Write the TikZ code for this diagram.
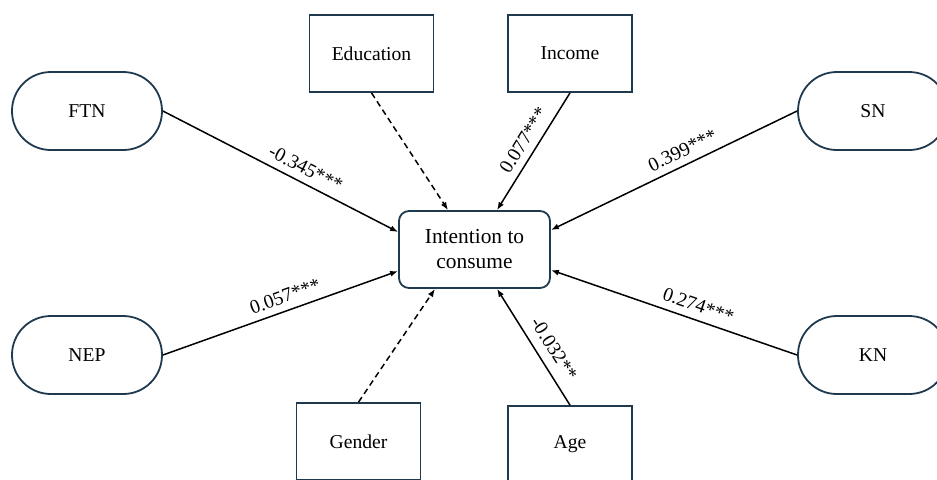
\documentclass[tikz,border=0pt]{standalone}
\usepackage{fontspec}
\setmainfont{Liberation Serif}
\usepackage{xcolor}
\usetikzlibrary{calc, arrows.meta}
\definecolor{navy}{HTML}{1F3A4F}

\begin{document}
\begin{tikzpicture}[x=0.5pt, y=-0.5pt, >={Latex[length=4pt, width=3pt]}]
		\tikzstyle{pill} = [draw=navy, line width=0.9pt, rectangle, rounded corners=19.4pt, minimum width=75pt, minimum height=39pt, font=\fontsize{9.8}{11.8}\selectfont]
		\tikzstyle{ctrl} = [draw=navy, line width=0.9pt, rectangle, minimum width=62pt, minimum height=38.5pt, font=\fontsize{9.8}{11.8}\selectfont]
		\tikzstyle{core} = [draw=navy, line width=0.9pt, rectangle, rounded corners=5pt, minimum width=75.5pt, minimum height=38.5pt, align=center, font=\fontsize{10.7}{12.5}\selectfont]
		\tikzstyle{coef} = [sloped, above=2.5pt, inner sep=1pt, font=\fontsize{9.8}{11.8}\selectfont]
		
		\useasboundingbox (0,0) rectangle (937,479);
		
		\node[core]	at (474.5, 249.5)	(intent)	{Intention to\\consume};
		\node[pill]	at (87, 111)	(ftn)	{FTN};
		\node[pill]	at (87, 355)	(nep)	{NEP};
		\node[pill]	at (873, 111)	(sn)	{SN};
		\node[pill]	at (873, 355)	(kn)	{KN};
		\node[ctrl]	at (371.5, 53.5)	(edu)	{Education};
		\node[ctrl]	at (570, 53.5)	(inc)	{Income};
		\node[ctrl]	at (358.5, 441.5)	(gen)	{Gender};
		\node[ctrl]	at (570, 444.5)	(age)	{Age};
		
		% end points on the central box
		\coordinate (toFTN) at ($(intent.west)+(0,-17.5)$);
		\coordinate (toNEP) at ($(intent.west)+(0,21.5)$);
		\coordinate (toSN)  at ($(intent.east)+(0,-19.5)$);
		\coordinate (toKN)  at ($(intent.east)+(0,20.5)$);
		\coordinate (toEDU) at ($(intent.north)+(-26.5,0)$);
		\coordinate (toINC) at ($(intent.north)+(22.5,0)$);
		\coordinate (toGEN) at ($(intent.south)+(-39.5,0)$);
		\coordinate (toAGE) at ($(intent.south)+(22.5,0)$);
		
		\path[->, line width=0.75pt]
		(ftn.east)	edge	node[coef, pos=0.58]	{-0.345***}	(toFTN)
		(nep.east)	edge	node[coef, pos=0.54]	{0.057***}	(toNEP)
		(sn.west)	edge	node[coef, pos=0.44]	{0.399***}	(toSN)
		(kn.west)	edge	node[coef, pos=0.42]	{0.274***}	(toKN)
		(inc.south)	edge	node[coef, pos=0.47]	{0.077***}	(toINC)
		(age.north)	edge	node[coef, pos=0.41, above=1pt]	{-0.032**}	(toAGE)
		(edu.south)	edge[dash pattern=on 3pt off 2pt]	(toEDU)
		(gen.north)	edge[dash pattern=on 3pt off 2pt]	(toGEN);
\end{tikzpicture}
\end{document}
